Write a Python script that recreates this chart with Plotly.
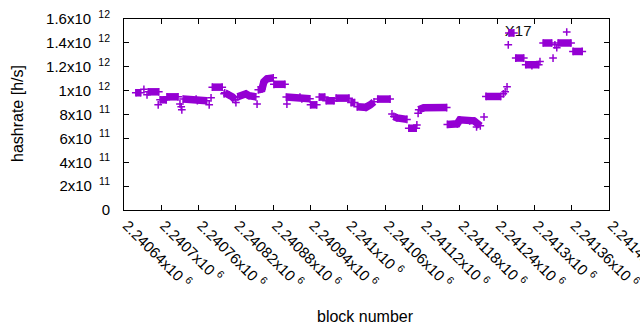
import plotly.graph_objects as go

# ---- data ----
# block number, hashrate [h/s] in units of 1e12, and run id (points of one run are
# consecutive blocks drawn so densely that their "+" marks merge into one bar)
blocks = [
    2240659, 2240667,
    2240672,
    2240677,
    2240679, 2240696,
    2240695,
    2240698, 2240708,
    2240709, 2240727,
    2240730, 2240732, 2240733,
    2240735, 2240756, 2240758, 2240773,
    2240777,
    2240780,
    2240782, 2240798,
    2240801,
    2240802, 2240809, 2240814, 2240819,
    2240820,
    2240823, 2240836, 2240841, 2240852,
    2240854,
    2240856, 2240862, 2240865, 2240870, 2240880,
    2240881, 2240899,
    2240901, 2240923, 2240926, 2240939,
    2240902,
    2240940, 2240950,
    2240954, 2240963,
    2240965, 2240978,
    2240981, 2241002,
    2241005, 2241011,
    2241015, 2241029, 2241036, 2241042,
    2241048, 2241068,
    2241071,
    2241074, 2241079, 2241095,
    2241098, 2241110,
    2241111,
    2241113,
    2241114, 2241122, 2241159,
    2241160, 2241176, 2241180, 2241196, 2241203, 2241209, 2241213,
    2241207,
    2241219,
    2241222, 2241246,
    2241250, 2241253, 2241256,
    2241258,
    2241259, 2241267,
    2241270, 2241283,
    2241286, 2241296, 2241307,
    2241309,
    2241314, 2241328,
    2241330,
    2241333, 2241336,
    2241338, 2241359,
    2241352,
    2241362, 2241377,
]
hashrate_e12 = [
    0.982, 0.982,
    1.011,
    0.965,
    0.990, 0.990,
    0.881,
    0.923, 0.923,
    0.948, 0.948,
    0.889, 0.864, 0.839,
    0.929, 0.929, 0.915, 0.915,
    0.881,
    0.940,
    1.029, 1.029,
    0.973,
    0.982, 0.965, 0.948, 0.923,
    0.900,
    0.948, 0.973, 0.957, 0.948,
    0.887,
    1.007, 1.015, 1.074, 1.099, 1.107,
    1.053, 1.053,
    0.946, 0.946, 0.931, 0.931,
    0.887,
    0.881, 0.881,
    0.946, 0.946,
    0.915, 0.915,
    0.937, 0.937,
    0.900, 0.900,
    0.864, 0.860, 0.881, 0.906,
    0.929, 0.929,
    0.805,
    0.784, 0.772, 0.759,
    0.685, 0.685,
    0.713,
    0.810,
    0.839, 0.856, 0.858,
    0.717, 0.722, 0.755, 0.747, 0.747, 0.722, 0.705,
    0.696,
    0.780,
    0.951, 0.951,
    0.973, 0.990, 1.032,
    1.384,
    1.483, 1.483,
    1.273, 1.273,
    1.217, 1.210, 1.217,
    1.244,
    1.399, 1.399,
    1.273,
    1.384, 1.359,
    1.399, 1.399,
    1.491,
    1.328, 1.328,
]
run_id = [
    1, 1,
    2,
    3,
    4, 4,
    5,
    6, 6,
    7, 7,
    8, 9, 10,
    11, 11, 11, 11,
    12,
    13,
    14, 14,
    15,
    16, 16, 16, 16,
    17,
    18, 18, 18, 18,
    19,
    20, 20, 20, 20, 20,
    21, 21,
    22, 22, 22, 22,
    23,
    24, 24,
    25, 25,
    26, 26,
    27, 27,
    28, 28,
    29, 29, 29, 29,
    30, 30,
    31,
    32, 32, 32,
    33, 33,
    34,
    35,
    36, 36, 36,
    37, 37, 37, 37, 37, 37, 37,
    38,
    39,
    40, 40,
    41, 42, 43,
    44,
    45, 45,
    46, 46,
    47, 47, 47,
    48,
    49, 49,
    50,
    51, 52,
    53, 53,
    54,
    55, 55,
]

x_tick_vals = [2240640 + 60 * k for k in range(14)]
x_tick_text = ["2.24064", "2.2407", "2.24076", "2.24082", "2.24088", "2.24094", "2.241",
               "2.24106", "2.24112", "2.24118", "2.24124", "2.2413", "2.24136", "2.24142"]
y_tick_vals = [0, 2e11, 4e11, 6e11, 8e11, 1e12, 1.2e12, 1.4e12, 1.6e12]
y_tick_text = ["0", "2x10", "4x10", "6x10", "8x10", "1x10", "1.2x10", "1.4x10", "1.6x10"]
y_tick_exp = ["", "11", "11", "11", "11", "12", "12", "12", "12"]

label_text = "X17"
label_block = 2241274
label_rate = 1.493e12

PURPLE = "#9400D3"
FONT = "Liberation Sans, Arial, sans-serif"

# ---- build the trace table (break between runs) ----
xs, ys = [], []
prev = None
for b, h, r in zip(blocks, hashrate_e12, run_id):
    if prev is not None and r != prev:
        xs.append(None)
        ys.append(None)
    xs.append(b)
    ys.append(h * 1e12)
    prev = r

fig = go.Figure()
# label underneath the data, as in the reference
fig.add_trace(go.Scatter(
    x=[label_block], y=[label_rate], mode="text", text=[label_text],
    textfont=dict(family=FONT, size=15, color="#111111"),
    textposition="middle center", showlegend=False, hoverinfo="skip"))
fig.add_trace(go.Scatter(
    x=xs, y=ys, mode="lines+markers", connectgaps=False,
    line=dict(color=PURPLE, width=7.5),
    marker=dict(symbol="cross-thin", size=5.5, color=PURPLE,
                line=dict(color=PURPLE, width=1.5)),
    showlegend=False))

yt = [t if e == "" else f"{t} \u2009<sup>{e}</sup>" for t, e in zip(y_tick_text, y_tick_exp)]
xt = [f"{t}x10 <sup>6</sup>" for t in x_tick_text]

fig.update_layout(
    width=640, height=330,
    margin=dict(l=124, r=31, t=19, b=120),
    paper_bgcolor="white", plot_bgcolor="white",
    font=dict(family=FONT, size=15, color="black"),
    xaxis=dict(range=[2240640, 2241420], tickmode="array", tickvals=x_tick_vals,
               ticktext=xt, tickangle=45, showgrid=False, zeroline=False,
               showline=True, linecolor="black", linewidth=1, mirror="ticks",
               ticks="inside", ticklen=5, tickcolor="black", automargin=False,
               ticklabeloverflow="allow", ticklabelshift=3,
               tickfont=dict(family=FONT, size=15, color="black")),
    yaxis=dict(range=[0, 1.6e12], tickmode="array", tickvals=y_tick_vals,
               ticktext=yt, showgrid=False, zeroline=False,
               showline=True, linecolor="black", linewidth=1, mirror="ticks",
               ticks="inside", ticklen=5, tickcolor="black", automargin=False,
               ticklabelstandoff=10,
               tickfont=dict(family=FONT, size=15, color="black")),
    annotations=[
        dict(text="hashrate [h/s]", xref="paper", yref="paper", x=-0.2206, y=0.5026,
             textangle=-90, showarrow=False, font=dict(family=FONT, size=16, color="black"),
             xanchor="center", yanchor="middle"),
        dict(text="block number", xref="paper", yref="paper", x=0.497, y=-0.555,
             showarrow=False, font=dict(family=FONT, size=16, color="black"),
             xanchor="center", yanchor="middle"),
    ],
)

fig.write_html("out.html")
